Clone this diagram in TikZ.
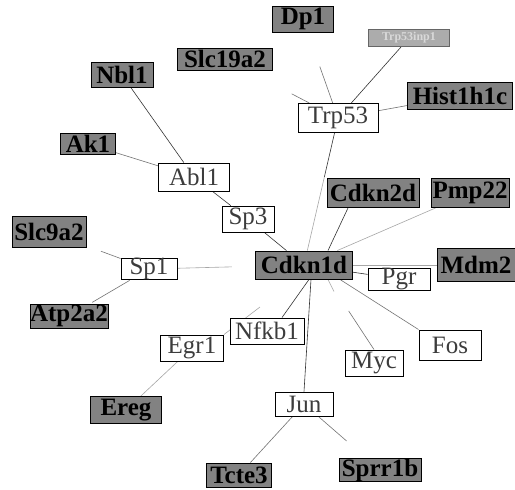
\documentclass[tikz,border=0pt]{standalone}
\usepackage{fontspec}
\setmainfont{Liberation Serif}
\usetikzlibrary{calc,backgrounds}
\definecolor{genegray}{RGB}{130,130,130}
\definecolor{palegray}{RGB}{172,172,172}
\definecolor{labelgray}{RGB}{60,60,60}
\tikzset{
  wh/.style 2 args={minimum width=#1pt, minimum height=#2pt},
  gene/.style={draw=black, line width=0.9pt, inner sep=0pt, fill=genegray,
    text=black, font=\rmfamily\fontsize{25}{25}\selectfont\bfseries},
  pale/.style={draw=black!60, line width=0.8pt, inner sep=0pt, fill=palegray,
    text=white!85!black, font=\rmfamily\fontsize{12}{12}\selectfont\bfseries},
  hub/.style={draw=black, line width=0.9pt, inner sep=0pt, fill=white,
    text=labelgray, font=\rmfamily\fontsize{25}{25}\selectfont},
  link/.style={draw=black!80, line width=0.6pt},
  mid/.style={draw=black!55, line width=0.6pt},
  weak/.style={draw=black!35, line width=0.6pt},
}
\begin{document}
\begin{tikzpicture}[x=1pt, y=-1pt]
\useasboundingbox (0,0) rectangle (515,490);

% gene nodes
\node[gene, wh={61}{26}] (Dp1) at (303,19) {Dp1};
\node[pale, wh={81}{17}] (Inp) at (409,38) {Trp53inp1};
\node[gene, wh={95}{22}] (Slc19a2) at (225,59) {Slc19a2};
\node[gene, wh={62}{25}] (Nbl1) at (122,75) {Nbl1};
\node[gene, wh={105}{27}] (Hist) at (460,96) {Hist1h1c};
\node[hub, wh={80}{29}] (Trp53) at (338,118) {Trp53};
\node[gene, wh={55}{21}] (Ak1) at (88,144) {Ak1};
\node[hub, wh={71}{28}] (Abl1) at (194,177) {Abl1};
\node[gene, wh={92}{29}] (Cdkn2d) at (373,193) {Cdkn2d};
\node[gene, wh={78}{29}] (Pmp22) at (470,193) {Pmp22};
\node[hub, wh={52}{26}] (Sp3) at (248,219) {Sp3};
\node[gene, wh={74}{31}] (Slc9a2) at (49,232) {Slc9a2};
\node[hub, wh={56}{20}] (Sp1) at (149,269) {Sp1};
\node[gene, wh={97}{28}] (Cdkn1d) at (304,265) {Cdkn1d};
\node[gene, wh={78}{33}] (Mdm2) at (476,265) {Mdm2};
\node[hub, wh={62}{22}] (Pgr) at (399,279) {Pgr};
\node[gene, wh={78}{24}] (Atp2a2) at (69,316) {Atp2a2};
\node[hub, wh={74}{26}] (Nfkb1) at (267,331) {Nfkb1};
\node[hub, wh={63}{26}] (Egr1) at (192,348) {Egr1};
\node[hub, wh={62}{30}] (Fos) at (450,345) {Fos};
\node[hub, wh={58}{26}] (Myc) at (374,363) {Myc};
\node[gene, wh={71}{27}] (Ereg) at (126,410) {Ereg};
\node[hub, wh={58}{24}] (Jun) at (304,404) {Jun};
\node[gene, wh={65}{24}] (Tcte3) at (239,475) {Tcte3};
\node[gene, wh={82}{22}] (Sprr1b) at (380,470) {Sprr1b};

% interaction lines, kept beneath the boxes
\begin{scope}[on background layer]
  \fill[white] (0,0) rectangle (515,490);
  \draw[mid] (Trp53) -- ($(Trp53)!0.52!(Dp1)$);
  \draw[mid] (Trp53) -- ($(Trp53)!0.41!(Slc19a2)$);
  \draw[link] (Trp53) -- (Inp);
  \draw[mid] (Trp53) -- (Hist);
  \draw[link] (Trp53) -- ($(Trp53)!0.4!(Cdkn1d)$);
  \draw[weak] ($(Trp53)!0.4!(Cdkn1d)$) -- (Cdkn1d);
  \draw[link] ($(Cdkn2d.south)+(-25,0)$) -- ($(Cdkn1d.north)+(24,0)$);
  \draw[link] (Nbl1) -- (Abl1);
  \draw[mid] (Ak1) -- (Abl1);
  \draw[link] (Abl1) -- (Sp3);
  \draw[link] (Sp3) -- (Cdkn1d);
  \draw[weak] (Pmp22) -- (Cdkn1d);
  \draw[weak] (Mdm2) -- (Cdkn1d);
  \draw[link] (Pgr) -- (Cdkn1d);
  \draw[weak] (Sp1) -- ($(Sp1)!0.535!(Cdkn1d)$);
  \draw[mid] (Sp1) -- ($(Sp1)!0.48!(Slc9a2)$);
  \draw[mid] (Sp1) -- ($(Sp1)!0.71!(Atp2a2)$);
  \draw[link] ($(Cdkn1d.south)+(5,0)$) -- ($(Nfkb1.north)+(15,0)$);
  \draw[weak] (Egr1.north east) -- ($(Egr1.north east)!0.5!($(Cdkn1d.south)+(-8,0)$)$);
  \draw[weak] (Egr1) -- (Ereg);
  \draw[link] ($(Cdkn1d.south)+(7,0)$) -- (Jun.north);
  \draw[weak] ($(Cdkn1d.south)+(24,0)$) -- ($(Cdkn1d.south)+(30,12)$);
  \draw[mid] ($($(Cdkn1d.south)+(24,0)$)!0.45!(Myc.north)$) -- (Myc.north);
  \draw[mid] ($(Cdkn1d.south east)+(-13,0)$) -- (Fos.north west);
  \draw[mid] (Jun) -- (Tcte3);
  \draw[mid] (Jun) -- ($(Jun)!0.56!(Sprr1b)$);
\end{scope}
\end{tikzpicture}
\end{document}
